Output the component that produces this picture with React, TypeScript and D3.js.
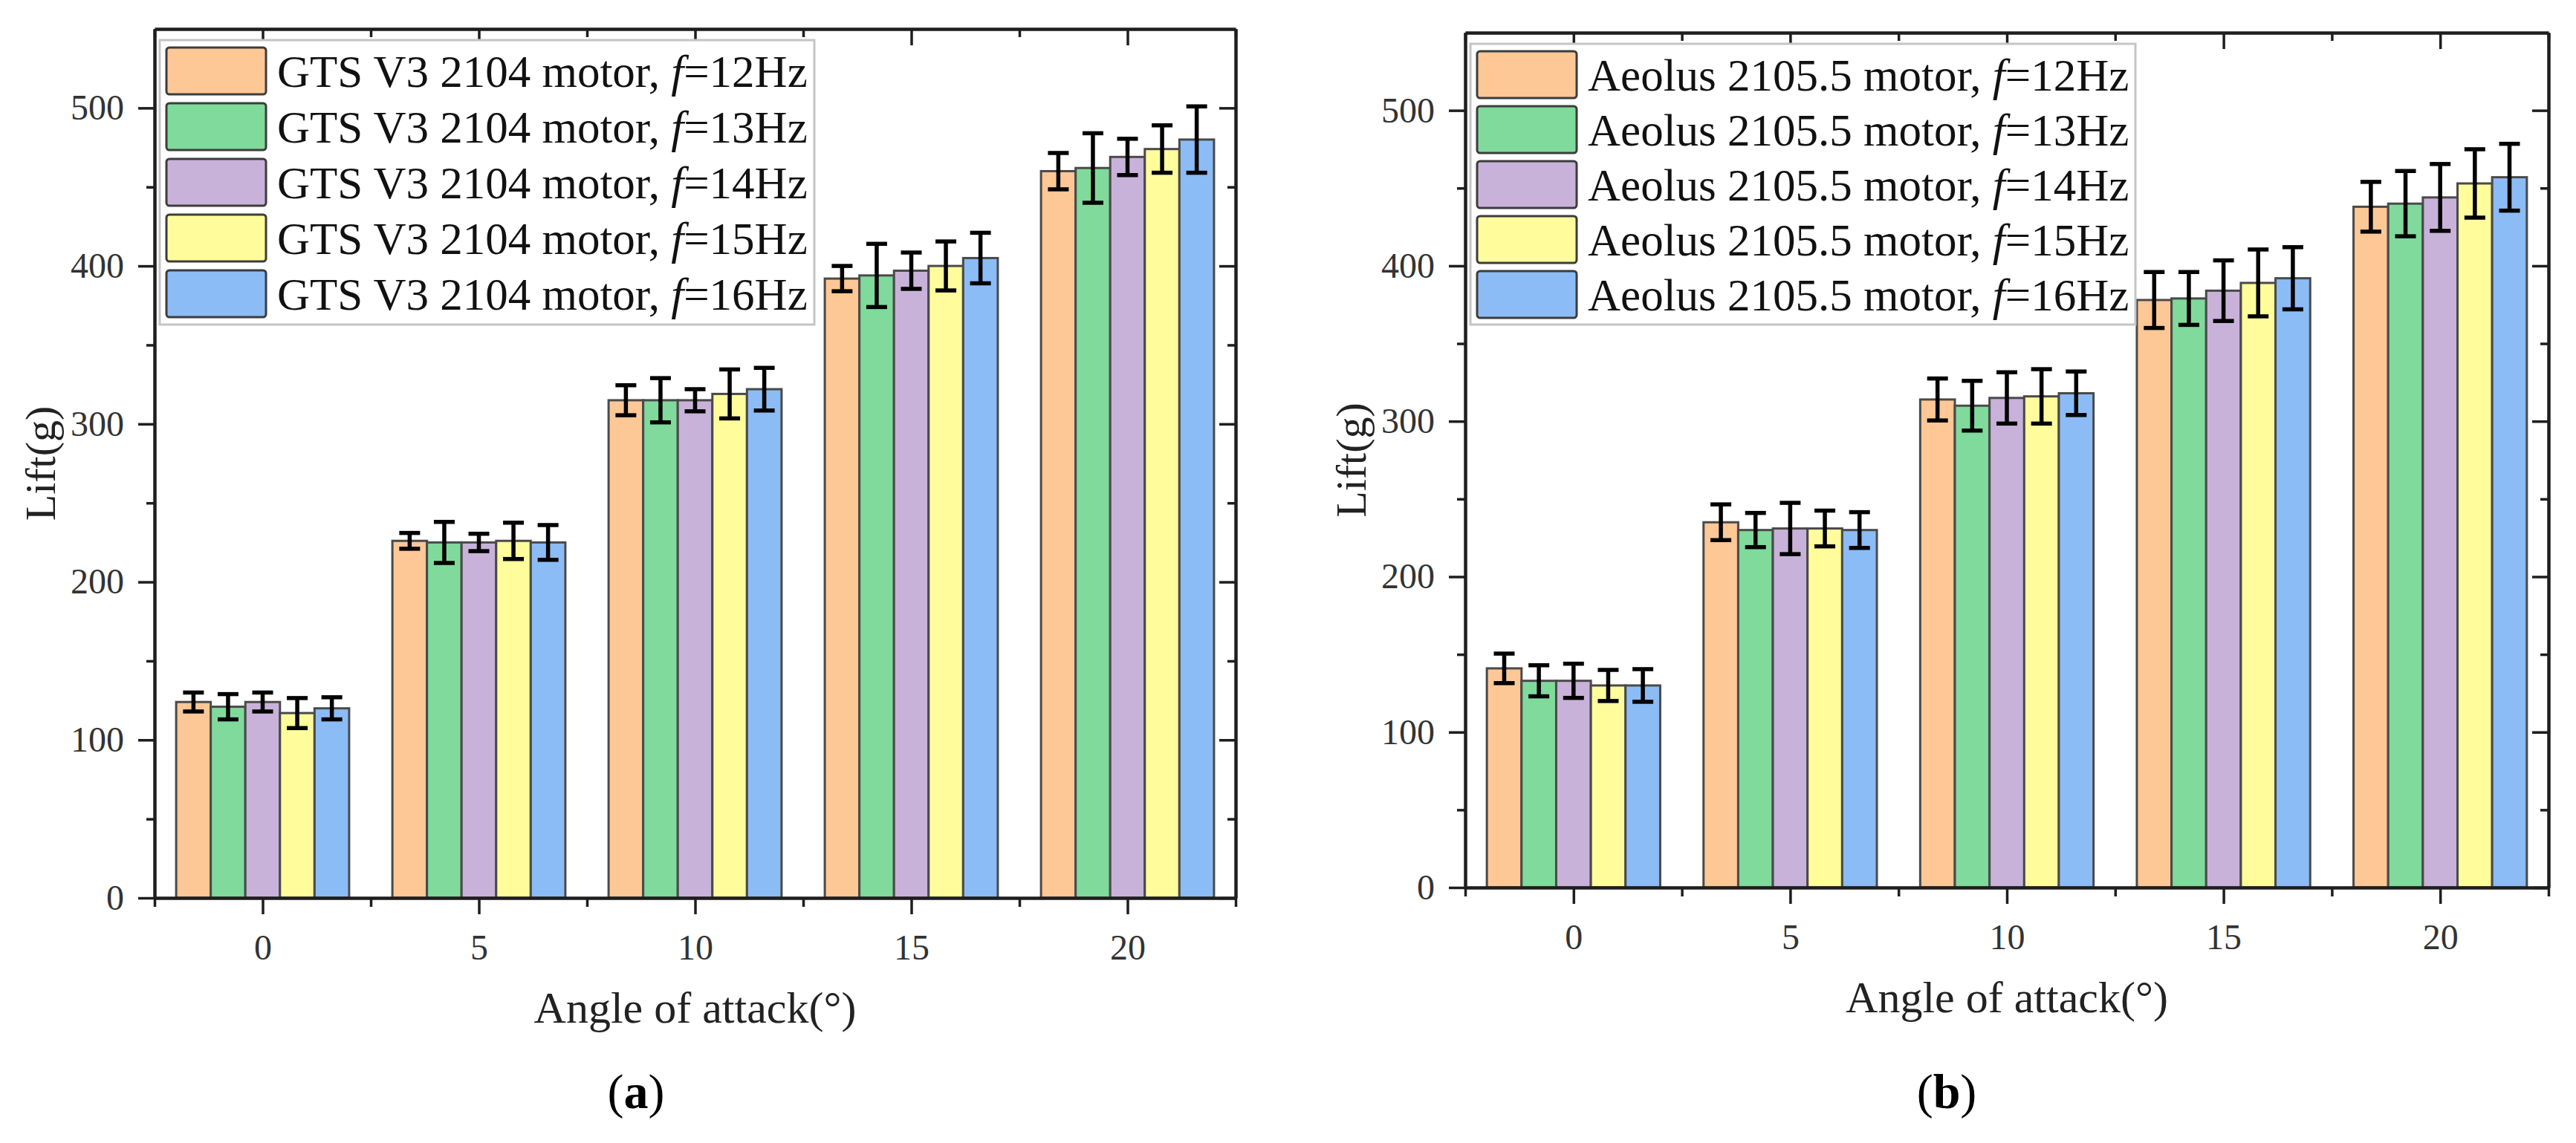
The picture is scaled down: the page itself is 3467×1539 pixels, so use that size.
import * as d3 from "d3";
import { useRef, useEffect, ReactElement } from "react";

// canvas
const W = 3467;
const H = 1539;

// categories (angle of attack, deg)
const angles = [0, 5, 10, 15, 20];
const minorAngles = [-2.5, 2.5, 7.5, 12.5, 17.5, 22.5];
const yTicks = [0, 100, 200, 300, 400, 500];
const yMinor = [50, 150, 250, 350, 450];
const freqs = [12, 13, 14, 15, 16];

// (a) GTS V3 2104 motor, lift in g, per flapping frequency
const liftA12 = [124, 226, 315, 392, 460];
const liftA13 = [121, 225, 315, 394, 462];
const liftA14 = [124, 225, 315, 397, 469];
const liftA15 = [117, 226, 319, 400, 474];
const liftA16 = [120, 225, 322, 405, 480];
const errA12 = [6, 5, 9.5, 8, 11.5];
const errA13 = [8, 13, 14, 20, 22];
const errA14 = [6, 5.5, 7, 11.5, 11.5];
const errA15 = [9.5, 11.5, 15.5, 15.5, 15];
const errA16 = [7, 11, 13.5, 16, 21];

// (b) Aeolus 2105.5 motor
const liftB12 = [141, 235, 314, 378, 438];
const liftB13 = [133, 230, 310, 379, 440];
const liftB14 = [133, 231, 315, 384, 444];
const liftB15 = [130, 231, 316, 389, 453];
const liftB16 = [130, 230, 318, 392, 457];
const errB12 = [9.5, 11.5, 13.5, 18, 16];
const errB13 = [10, 11, 16, 17, 21];
const errB14 = [11, 16.5, 16.5, 19.5, 21.5];
const errB15 = [10, 11.5, 17.5, 21.5, 22];
const errB16 = [10.5, 11.5, 14, 20, 21.5];

const colors = ["#FEC896", "#80DA9B", "#C9B2D9", "#FEFC9B", "#8CBCF5"];
const INK = "#1e1e1e";
const FONT = "'Liberation Serif', 'Times New Roman', serif";

interface AxisProps {
    make: () => d3.Axis<d3.NumberValue>;
    transform: string;
    keepDomain?: boolean;
}

// small wrapper so d3's axis generator draws into a <g>
const AxisG = ({ make, transform, keepDomain = true }: AxisProps): ReactElement => {
    const ref = useRef<SVGGElement>(null);
    useEffect(() => {
        if (!ref.current) return;
        const g = d3.select(ref.current);
        g.call(make());
        g.attr("font-family", FONT).attr("font-size", 48);
        if (keepDomain) {
            g.select(".domain").attr("stroke", INK).attr("stroke-width", 4.5);
        } else {
            g.select(".domain").remove();
        }
        g.selectAll(".tick line").attr("stroke", INK).attr("stroke-width", 3.5);
        g.selectAll(".tick text").attr("fill", "#333");
    });
    return <g ref={ref} transform={transform} />;
};

interface PanelProps {
    left: number;
    right: number;
    top: number;
    bottom: number;
    motor: string;
    caption: string;
    lifts: number[][];
    errs: number[][];
    legendW: number;
    legendPitch: number;
}

const Panel = (props: PanelProps): ReactElement => {
    const { left, right, top, bottom, motor, caption, lifts, errs, legendW, legendPitch } = props;

    const x = d3.scaleLinear().domain([-2.5, 22.5]).range([left, right]);
    const y = d3.scaleLinear().domain([0, 550]).range([bottom, top]);
    // bars of one group fill 4 of the 5 degrees between categories
    const inner = d3.scaleBand<number>().domain(d3.range(freqs.length)).range([-2, 2]);

    const noLabel = () => "";

    return (
        <g>
            {/* bars */}
            {lifts.map((vals, si) =>
                vals.map((v, ci) => {
                    const x0 = x(angles[ci] + inner(si)!);
                    const x1 = x(angles[ci] + inner(si)! + inner.bandwidth());
                    return (
                        <rect key={`b${si}-${ci}`} x={x0} y={y(v)} width={x1 - x0} height={y(0) - y(v)}
                            fill={colors[si]} stroke="#4a4a4a" strokeWidth={3} />
                    );
                })
            )}
            {/* error bars */}
            {lifts.map((vals, si) =>
                vals.map((v, ci) => {
                    const cx = x(angles[ci] + inner(si)! + inner.bandwidth() / 2);
                    const e = errs[si][ci];
                    const hi = y(v + e), lo = y(v - e);
                    return (
                        <g key={`e${si}-${ci}`} stroke="#000" strokeWidth={5.5}>
                            <line x1={cx} x2={cx} y1={hi} y2={lo} />
                            <line x1={cx - 14} x2={cx + 14} y1={hi} y2={hi} />
                            <line x1={cx - 14} x2={cx + 14} y1={lo} y2={lo} />
                        </g>
                    );
                })
            )}

            {/* frame with ticks */}
            <AxisG transform={`translate(0,${bottom})`}
                make={() => d3.axisBottom(x).tickValues(angles).tickSize(22).tickSizeOuter(0).tickPadding(27).tickFormat(d3.format("d"))} />
            <AxisG transform={`translate(0,${bottom})`} keepDomain={false}
                make={() => d3.axisBottom(x).tickValues(minorAngles).tickSize(12).tickSizeOuter(0).tickFormat(noLabel)} />
            <AxisG transform={`translate(0,${top})`}
                make={() => d3.axisBottom(x).tickValues(angles).tickSize(22).tickSizeOuter(0).tickFormat(noLabel)} />
            <AxisG transform={`translate(0,${top})`} keepDomain={false}
                make={() => d3.axisBottom(x).tickValues(minorAngles).tickSize(11).tickSizeOuter(0).tickFormat(noLabel)} />
            <AxisG transform={`translate(${left},0)`}
                make={() => d3.axisLeft(y).tickValues(yTicks).tickSize(22).tickSizeOuter(0).tickPadding(19).tickFormat(d3.format("d"))} />
            <AxisG transform={`translate(${left},0)`} keepDomain={false}
                make={() => d3.axisLeft(y).tickValues(yMinor).tickSize(11).tickSizeOuter(0).tickFormat(noLabel)} />
            <AxisG transform={`translate(${right},0)`}
                make={() => d3.axisLeft(y).tickValues(yTicks).tickSize(22).tickSizeOuter(0).tickFormat(noLabel)} />
            <AxisG transform={`translate(${right},0)`} keepDomain={false}
                make={() => d3.axisLeft(y).tickValues(yMinor).tickSize(11).tickSizeOuter(0).tickFormat(noLabel)} />

            {/* legend */}
            <g>
                <rect x={left + 7} y={top + 15} width={legendW} height={legendPitch * 5 + 8}
                    fill="#fff" stroke="#c4c4c4" strokeWidth={3} />
                {freqs.map((f, i) => {
                    const ry = top + 25 + i * legendPitch;
                    return (
                        <g key={`l${f}`}>
                            <rect x={left + 16} y={ry} width={134} height={63} rx={4}
                                fill={colors[i]} stroke="#3c3c3c" strokeWidth={3} />
                            <text x={left + 165} y={ry + 32} dy="0.34em" fontSize={61} fill="#111">
                                {`${motor} motor, `}
                                <tspan fontStyle="italic">f</tspan>
                                {`=${f}Hz`}
                            </text>
                        </g>
                    );
                })}
            </g>

            {/* axis titles */}
            <text transform={`translate(${left - 154},${(top + bottom) / 2}) rotate(-90)`}
                textAnchor="middle" dy="0.34em" fontSize={58} fill="#222">Lift(g)</text>
            <text x={(left + right) / 2} y={bottom + 148} textAnchor="middle" dy="0.34em"
                fontSize={60} fill="#222">Angle of attack(°)</text>

            {/* caption */}
            <text x={left + 648} y={1470} textAnchor="middle" dy="0.34em" fontSize={66} fill="#000">
                (<tspan fontWeight="bold">{caption}</tspan>)
            </text>
        </g>
    );
};

const App = (): ReactElement => {
    const liftsA = [liftA12, liftA13, liftA14, liftA15, liftA16];
    const errsA = [errA12, errA13, errA14, errA15, errA16];
    const liftsB = [liftB12, liftB13, liftB14, liftB15, liftB16];
    const errsB = [errB12, errB13, errB14, errB15, errB16];

    return (
        <svg width={W} height={H} viewBox={`0 0 ${W} ${H}`}
            style={{ position: "absolute", left: 0, top: 0, background: "#fff" }}
            fontFamily={FONT}>
            <rect width={W} height={H} fill="#fff" />
            <Panel left={208} right={1663} top={39} bottom={1209} motor="GTS V3 2104" caption="a"
                lifts={liftsA} errs={errsA} legendW={881} legendPitch={75} />
            <Panel left={1972} right={3430} top={44} bottom={1195} motor="Aeolus 2105.5" caption="b"
                lifts={liftsB} errs={errsB} legendW={895} legendPitch={74} />
        </svg>
    );
};

export default App;
